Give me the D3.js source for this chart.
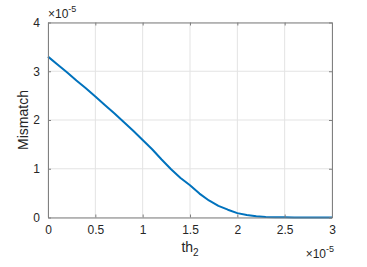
<!DOCTYPE html>
<html>
<head>
<meta charset="utf-8">
<script src="https://cdn.jsdelivr.net/npm/d3@7"></script>
<style>
  body { margin: 0; background: #fff; }
  text { font-family: "Liberation Sans", Arial, sans-serif; fill: #262626; }
</style>
</head>
<body>
<svg width="367" height="267"></svg>
<script>
// th_2 values (units of 1e-5) and mismatch (units of 1e-5)
var thValues = [0, 0.1, 0.2, 0.3, 0.4, 0.5, 0.6, 0.7, 0.8, 0.9, 1.0,
  1.1, 1.2, 1.3, 1.4, 1.5, 1.6, 1.7, 1.8, 1.9, 2.0,
  2.1, 2.2, 2.3, 2.4, 2.5, 2.6, 2.7, 2.8, 2.9, 3.0];
var mismatch = [3.30, 3.14, 2.98, 2.81, 2.65, 2.48, 2.31, 2.14, 1.96, 1.78, 1.59,
  1.40, 1.19, 0.99, 0.81, 0.66, 0.49, 0.35, 0.24, 0.16, 0.09,
  0.05, 0.025, 0.012, 0.006, 0.003, 0.002, 0.001, 0.0005, 0.0002, 0];
var xTicks = [0, 0.5, 1, 1.5, 2, 2.5, 3];
var yTicks = [0, 1, 2, 3, 4];

var svg = d3.select("svg");
var mLeft = 48, mRight = 332, mTop = 22.5, mBottom = 217.5;

var x = d3.scaleLinear().domain([0, 3]).range([mLeft, mRight]);
var y = d3.scaleLinear().domain([0, 4]).range([mBottom, mTop]);
var fmt = function (d) { return String(d); };

// grid
svg.append("g").selectAll("line").data(xTicks).enter().append("line")
  .attr("x1", function (d) { return x(d); }).attr("x2", function (d) { return x(d); })
  .attr("y1", mTop).attr("y2", mBottom)
  .attr("stroke", "#e3e3e3").attr("stroke-width", 1);
svg.append("g").selectAll("line").data(yTicks).enter().append("line")
  .attr("y1", function (d) { return y(d); }).attr("y2", function (d) { return y(d); })
  .attr("x1", mLeft).attr("x2", mRight)
  .attr("stroke", "#e3e3e3").attr("stroke-width", 1);

// data line
var line = d3.line()
  .x(function (d, i) { return x(thValues[i]); })
  .y(function (d) { return y(d); });
svg.append("path").datum(mismatch)
  .attr("d", line)
  .attr("fill", "none")
  .attr("stroke", "#0072BD")
  .attr("stroke-width", 2)
  .attr("stroke-linejoin", "round");

// axes (box on, ticks inward)
var axisColor = "#808080";
function styleAxis(g) {
  g.selectAll("path").attr("stroke", axisColor);
  g.selectAll("line").attr("stroke", axisColor);
  g.selectAll("text").attr("fill", "#262626").style("font-size", "12px")
    .style("font-family", "'Liberation Sans', Arial, sans-serif");
}
svg.append("g").attr("transform", "translate(0," + mBottom + ")")
  .call(d3.axisBottom(x).tickValues(xTicks).tickFormat(fmt).tickSizeInner(-3).tickSizeOuter(0).tickPadding(8))
  .call(styleAxis);
svg.append("g").attr("transform", "translate(" + mLeft + ",0)")
  .call(d3.axisLeft(y).tickValues(yTicks).tickFormat(fmt).tickSizeInner(-3).tickSizeOuter(0).tickPadding(8))
  .call(styleAxis);
svg.append("g").attr("transform", "translate(0," + mTop + ")")
  .call(d3.axisTop(x).tickValues(xTicks).tickSizeInner(-3).tickSizeOuter(0).tickFormat(""))
  .call(styleAxis);
svg.append("g").attr("transform", "translate(" + mRight + ",0)")
  .call(d3.axisRight(y).tickValues(yTicks).tickSizeInner(-3).tickSizeOuter(0).tickFormat(""))
  .call(styleAxis);

// exponent labels
var ex1 = svg.append("text").attr("x", mLeft).attr("y", mTop - 5).style("font-size", "12px");
ex1.append("tspan").text("\u00d710");
ex1.append("tspan").attr("dy", -6).style("font-size", "9px").text("-5");
var ex2 = svg.append("text").attr("x", mRight + 2).attr("y", 258).attr("text-anchor", "end").style("font-size", "12px");
ex2.append("tspan").text("\u00d710");
ex2.append("tspan").attr("dy", -6).style("font-size", "9px").text("-5");

// axis labels
var xl = svg.append("text").attr("x", x(1.5)).attr("y", 252).attr("text-anchor", "middle").style("font-size", "14px");
xl.append("tspan").text("th");
xl.append("tspan").attr("dy", 4).style("font-size", "10px").text("2");
svg.append("text").attr("transform", "translate(28," + ((mTop + mBottom) / 2) + ") rotate(-90)")
  .attr("text-anchor", "middle").style("font-size", "14px").text("Mismatch");
</script>
</body>
</html>
